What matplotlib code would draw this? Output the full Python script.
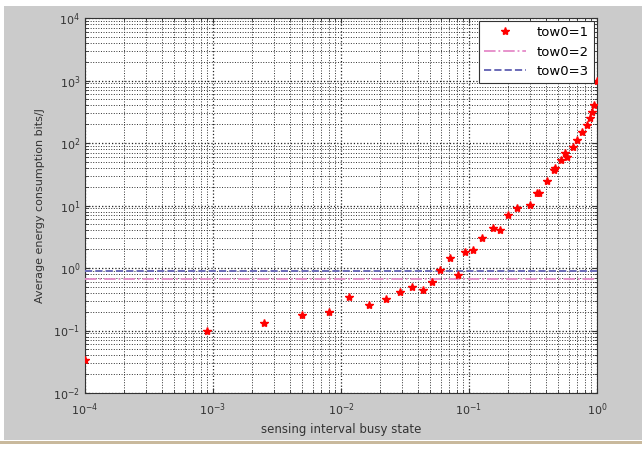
import numpy as np
import matplotlib
matplotlib.use("Agg")
import matplotlib.pyplot as plt
from matplotlib.patches import Rectangle
from matplotlib.ticker import NullFormatter, FixedLocator, LogLocator

# busy-state probability vs average energy consumption (tow0=1)
busy_state = [1e-4, 9e-4, 2.5e-3, 5e-3, 8.1e-3, 0.0115, 0.0166, 0.0224, 0.029,
              0.036, 0.044, 0.051, 0.059, 0.071, 0.082, 0.093, 0.107, 0.126,
              0.154, 0.174, 0.2, 0.237, 0.3, 0.34, 0.35, 0.41, 0.46, 0.47,
              0.52, 0.56, 0.58, 0.65, 0.70, 0.77, 0.83, 0.88, 0.92, 0.95, 1.0]
energy_tow1 = [0.034, 0.10, 0.13, 0.18, 0.20, 0.34, 0.26, 0.32, 0.41,
               0.50, 0.44, 0.60, 0.93, 1.45, 0.77, 1.8, 1.94, 3.0,
               4.4, 4.0, 7.0, 9.1, 10.2, 16.0, 15.8, 25.0, 37.0, 40.0,
               54.0, 69.0, 60.0, 87.0, 112.0, 150.0, 195.0, 250.0, 316.0, 400.0, 1000.0]

# other two settings appear as flat lines
x_flat = [1e-4, 1.0]
energy_tow2 = [0.66, 0.66]
energy_tow3 = [0.88, 0.88]

x_ticks = [1e-4, 1e-3, 1e-2, 1e-1, 1e0]
y_ticks = [1e-2, 1e-1, 1e0, 1e1, 1e2, 1e3, 1e4]

fig = plt.figure(figsize=(6.42, 4.49), dpi=100, facecolor="white")
fig.patches.append(Rectangle((4 / 642, 9 / 449), 1, 434 / 449,
                             transform=fig.transFigure, facecolor="#cbcbcb",
                             edgecolor="none", zorder=-10))
fig.patches.append(Rectangle((0, 5 / 449), 1, 3 / 449, transform=fig.transFigure,
                             facecolor="#c9b99c", edgecolor="none", zorder=-9))

ax = fig.add_axes([85 / 642, 1 - 393 / 449, 512 / 642, 375 / 449])
ax.set_xscale("log")
ax.set_yscale("log")
ax.set_xlim(1e-4, 1)
ax.set_ylim(1e-2, 1e4)
ax.set_xticks(x_ticks)
ax.set_yticks(y_ticks)
ax.xaxis.set_minor_locator(LogLocator(base=10, subs=np.arange(2, 10)))
ax.yaxis.set_minor_locator(LogLocator(base=10, subs=np.arange(2, 10)))
ax.xaxis.set_minor_formatter(NullFormatter())
ax.yaxis.set_minor_formatter(NullFormatter())

ax.plot(busy_state, energy_tow1, linestyle="none", marker="*", color="red",
        markersize=6, label="tow0=1", zorder=5)
ax.plot(x_flat, energy_tow2, linestyle="-.", color="#e58ac8", lw=1.3,
        label="tow0=2", zorder=4)
ax.plot(x_flat, energy_tow3, linestyle="--", color="#6a6ab8", lw=1.4,
        label="tow0=3", zorder=4)

ax.grid(True, which="major", linestyle=":", color="#202020", lw=0.9)
ax.grid(True, which="minor", linestyle=":", color="#303030", lw=0.7)
ax.set_axisbelow(True)
ax.tick_params(which="both", direction="in", top=True, right=True,
               labelsize=8, color="#333333", labelcolor="#333333")
ax.tick_params(axis="x", pad=6)
for s in ax.spines.values():
    s.set_color("#333333")

ax.set_xlabel("sensing interval busy state", fontsize=8.5, color="#333333", labelpad=4)
ax.set_ylabel("Average energy consumption bits/J", fontsize=8, color="#333333", labelpad=6)

leg = ax.legend(loc="upper right", fontsize=9.5, frameon=True, fancybox=False,
                borderaxespad=0.2, handlelength=3.2, labelspacing=0.5,
                framealpha=1.0)
leg.get_frame().set_edgecolor("#333333")
leg.get_frame().set_linewidth(0.8)

fig.savefig("out.png", dpi=100, facecolor=fig.get_facecolor())
